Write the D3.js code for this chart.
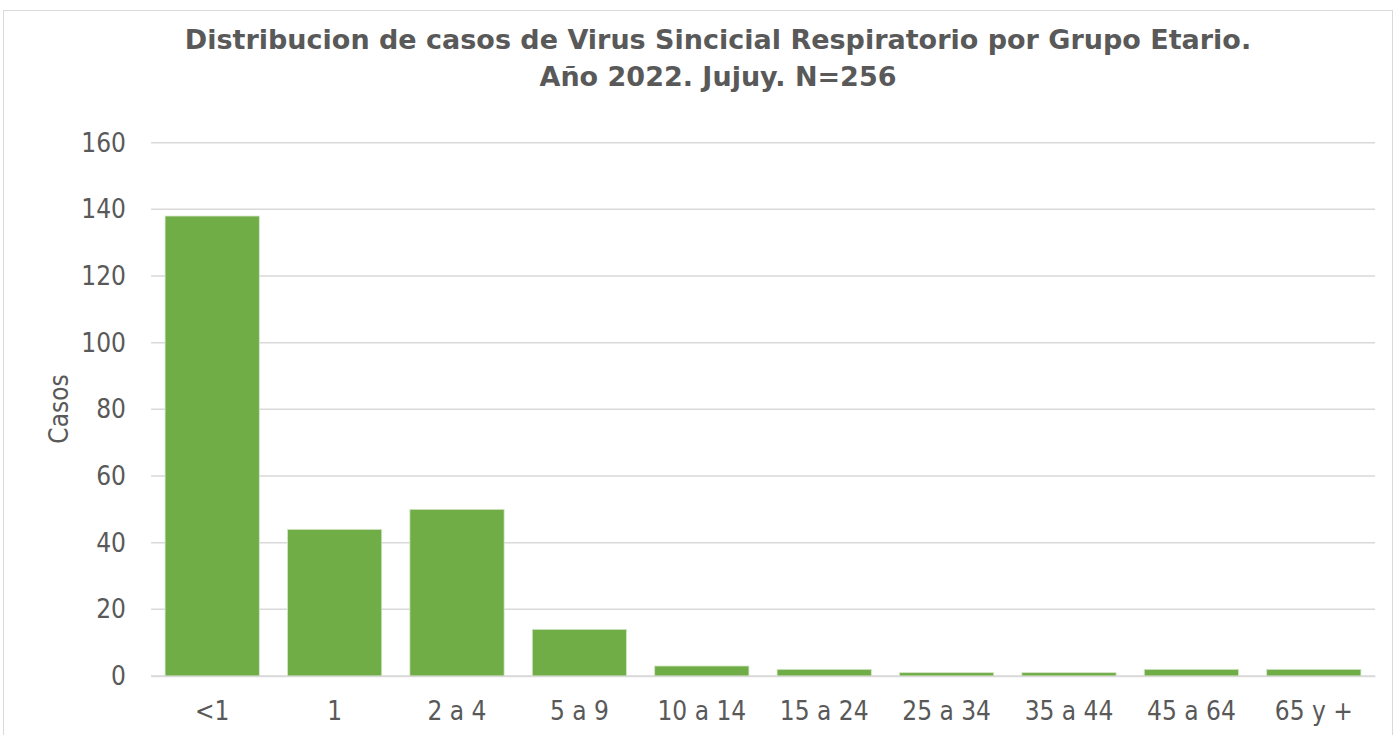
<!DOCTYPE html>
<html>
<head>
<meta charset="utf-8">
<script src="https://cdn.jsdelivr.net/npm/d3@7"></script>
<style>
  body { margin: 0; background: #fff; }
  svg { display: block; }
</style>
</head>
<body>
<svg></svg>
<script>
let categories = ["<1", "1", "2 a 4", "5 a 9", "10 a 14", "15 a 24", "25 a 34", "35 a 44", "45 a 64", "65 y +"];
let casos = [138, 44, 50, 14, 3, 2, 1, 1, 2, 2];
let yTicks = [0, 20, 40, 60, 80, 100, 120, 140, 160];
let titleLines = ["Distribucion de casos de Virus Sincicial Respiratorio por Grupo Etario.", "Año 2022. Jujuy. N=256"];

let W = 1395, H = 735;
let svg = d3.select("svg").attr("width", W).attr("height", H);
let font = "'Century Gothic', 'DejaVu Sans', sans-serif";
let tickFont = "'Liberation Sans Narrow', 'DejaVu Sans Condensed', 'Liberation Sans', sans-serif";
let grey = "#595959";

// chart frame
svg.append("rect")
    .attr("x", 3.5).attr("y", 10.5)
    .attr("width", 1389).attr("height", 740)
    .attr("fill", "#fff")
    .attr("stroke", "#d9d9d9")
    .attr("stroke-width", 1);

let x = d3.scaleBand().domain(categories).range([151, 1375]).paddingInner(0.23).paddingOuter(0.115);
let y = d3.scaleLinear().domain([0, 160]).range([676, 142.7]);

// gridlines
svg.append("g")
    .selectAll("line")
    .data(yTicks)
    .join("line")
    .attr("x1", 151).attr("x2", 1375)
    .attr("y1", d => y(d)).attr("y2", d => y(d))
    .attr("stroke", "#d9d9d9")
    .attr("stroke-width", 1.5);

// y axis labels
let yAxis = svg.append("g")
    .attr("transform", "translate(151,0)")
    .call(d3.axisLeft(y).tickValues(yTicks).tickSize(0).tickPadding(25));
yAxis.select(".domain").remove();
yAxis.selectAll("text")
    .style("font-family", tickFont)
    .style("font-size", "26px")
    .attr("fill", grey);

// bars
svg.append("g")
    .selectAll("rect")
    .data(casos)
    .join("rect")
    .attr("x", (d, i) => x(categories[i]))
    .attr("y", d => y(d))
    .attr("width", x.bandwidth())
    .attr("height", d => y(0) - y(d))
    .attr("fill", "#70ad47")
    .attr("stroke", "#d5e6c8")
    .attr("stroke-width", 0.8);

// x axis
let xAxis = svg.append("g")
    .attr("transform", "translate(0,676)")
    .call(d3.axisBottom(x).tickSize(0).tickPadding(26));
xAxis.select(".domain").attr("stroke", "#d9d9d9").attr("stroke-width", 1.5);
xAxis.selectAll("text")
    .style("font-family", tickFont)
    .style("font-size", "26px")
    .attr("fill", grey);

// y axis title
svg.append("text")
    .attr("transform", "translate(68,409) rotate(-90)")
    .attr("text-anchor", "middle")
    .style("font-family", tickFont)
    .style("font-size", "26px")
    .attr("fill", grey)
    .text("Casos");

// title
svg.append("g")
    .selectAll("text")
    .data(titleLines)
    .join("text")
    .attr("x", 718)
    .attr("y", (d, i) => 49 + i * 37)
    .attr("text-anchor", "middle")
    .style("font-family", font)
    .style("font-size", "27px")
    .style("font-weight", "bold")
    .attr("fill", grey)
    .text(d => d);
</script>
</body>
</html>
